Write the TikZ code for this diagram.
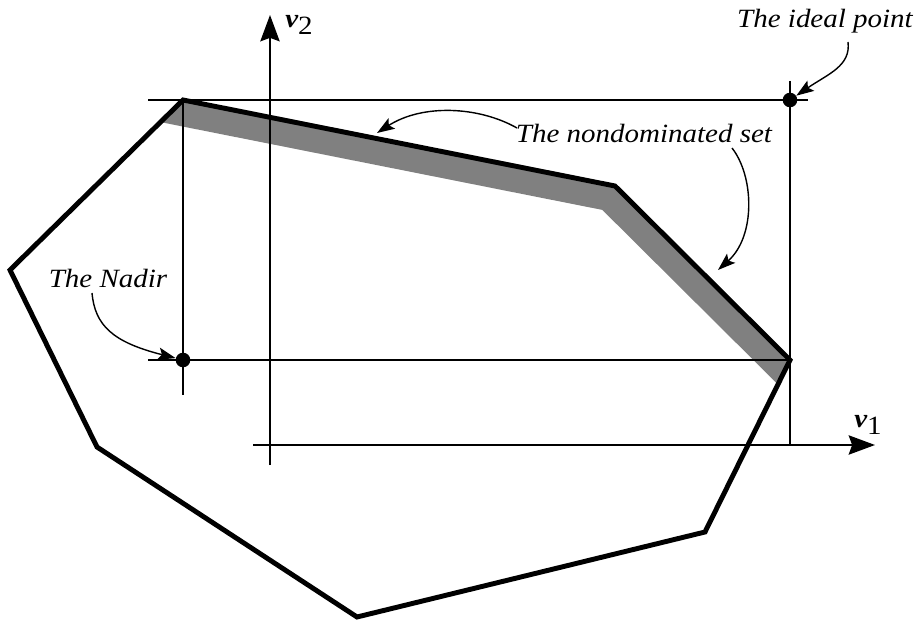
\documentclass[tikz,border=0pt]{standalone}
\usepackage{fontspec}
\newfontfamily\lblfont{Liberation Serif}[FakeStretch=1.1]
\usetikzlibrary{arrows.meta,positioning}

\begin{document}
\begin{tikzpicture}[
  x=0.02cm, y=-0.02cm,
  region/.style={line width=2.8pt, line join=miter},
  guide/.style={line width=1.1pt},
  axis/.style={line width=1.1pt, -{Stealth[length=15pt, width=11pt, inset=2pt]}},
  pointer/.style={line width=0.8pt, -{Stealth[length=10pt, width=7pt, inset=2pt]}},
  dot/.style={circle, fill=black, inner sep=0pt, minimum size=8.3pt},
  every node/.style={font=\lblfont\fontsize{15}{18}\selectfont\itshape}
]
\useasboundingbox (0,0) rectangle (916,621);

% feasible region
\coordinate (pa) at (183,100);
\coordinate (pb) at (615,186);
\coordinate (pc) at (790,360);
\coordinate (pd) at (705,532);
\coordinate (pe) at (357,617);
\coordinate (pf) at (97,447);
\coordinate (pg) at (10,270);

\fill[gray] (pa) -- (pb) -- (pc) -- (777.9,384.4) -- (602.3,209.9) -- (160.5,122.1) -- cycle;
\draw[region] (pa) -- (pb) -- (pc) -- (pd) -- (pe) -- (pf) -- (pg) -- cycle;

% axes
\coordinate (xstart) at (253,445);
\coordinate (xend) at (875,445);
\coordinate (ystart) at (270,465);
\coordinate (yend) at (270,15);
\draw[axis] (xstart) -- (xend);
\draw[axis] (ystart) -- (yend);
\node (v1) at (868,425) {\textbf{v}\raisebox{-0.6ex}{\upshape 1}};
\node (v2) at (299,25) {\textbf{v}\raisebox{-0.6ex}{\upshape 2}};

% ideal and nadir
\node[dot] (ideal) at (790,100) {};
\node[dot] (nadir) at (183,360) {};
\coordinate (topleft) at (148,100);
\coordinate (topright) at (808,100);
\coordinate (idealtop) at (790,81);
\coordinate (idealfoot) at (790,445);
\coordinate (nadirleft) at (148,360);
\coordinate (nadirfoot) at (183,395);
\draw[guide] (topleft) -- (topright);
\draw[guide] (idealtop) -- (idealfoot);
\draw[guide] (pa) -- (nadirfoot);
\draw[guide] (nadirleft) -- (pc);

% labels
\node (lideal) at (825,21) {The ideal point};
\node (lnd) at (644,133) {The nondominated set};
\node (lnadir) at (108,278) {The Nadir};

\coordinate (idealtail) at (848,42);
\coordinate (ndtaila) at (517,128);
\coordinate (ndtipa) at (377,133);
\coordinate (ndtailb) at (732,148);
\coordinate (ndtipb) at (718,270);
\coordinate (nadirtail) at (92,293);

\draw[pointer] (idealtail) .. controls (851,66) and (828,74) .. (ideal);
\draw[pointer] (ndtaila) .. controls (478,106) and (422,104) .. (ndtipa);
\draw[pointer] (ndtailb) .. controls (754,176) and (756,236) .. (ndtipb);
\draw[pointer] (nadirtail) .. controls (95,325) and (112,342) .. (nadir);
\end{tikzpicture}
\end{document}
